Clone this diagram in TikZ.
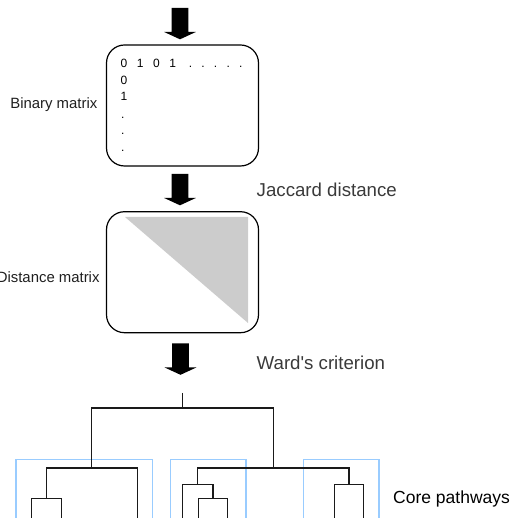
\documentclass[tikz,border=0pt]{standalone}
\usepackage{fontspec}
\setmainfont{Liberation Sans}[Ligatures=TeXOff]
\definecolor{paleblue}{HTML}{99CCFF}
\definecolor{trigray}{HTML}{CCCCCC}
\definecolor{labgray}{HTML}{3A3A3A}
\definecolor{dendro}{HTML}{1A1A1A}
\tikzset{
  mbox/.style={draw=black, line width=1.2pt, rounded corners=18pt, inner sep=0pt,
    minimum width=152pt, minimum height=121pt},
  bigtxt/.style={inner sep=0pt, text=labgray, font=\fontsize{18.67}{22}\selectfont},
  smalltxt/.style={inner sep=0pt, text=black!88, font=\fontsize{14.9}{18}\selectfont},
  cell/.style={inner sep=0pt, anchor=base west, font=\fontsize{12}{14}\selectfont},
  dline/.style={draw=dendro, line width=1.4pt},
  pathbox/.style={draw=paleblue, line width=1.1pt},
  blockarrow/.pic={\fill[black] (-8.3,0) -- (8.3,0) -- (8.3,24) -- (15.8,24) -- (0,31.3)
      -- (-15.8,24) -- (-8.3,24) -- cycle;}
}
\begin{document}
\begin{tikzpicture}[x=1pt,y=-1pt]
\useasboundingbox (0,0) rectangle (522,518);
\clip (0,0) rectangle (522,518);
% arrows
\pic at (180,8) {blockarrow};
\pic at (180,174) {blockarrow};
\pic at (180.5,343.5) {blockarrow};
% binary matrix box
\node[mbox] (bin) at (182.5,105.5) {};
\node[cell] (r1) at (120.3,67.5) {\makebox[16.3pt][l]{0}\makebox[16.3pt][l]{1}\makebox[16.3pt][l]{0}\makebox[19.4pt][l]{1}\makebox[12.6pt][l]{.}\makebox[12.6pt][l]{.}\makebox[12.6pt][l]{.}\makebox[12.6pt][l]{.}.};
\node[cell] (r2) at (120.3,84.3) {0};
\node[cell] (r3) at (120.3,100.7) {1};
\node[cell] (r4) at (121,118.5) {.};
\node[cell] (r5) at (121,135) {.};
\node[cell] (r6) at (121,151.5) {.};
\node[smalltxt, anchor=base east] (binlab) at (97.5,108.3) {Binary matrix};
% distance matrix box
\fill[trigray] (125,217) -- (248,217) -- (248,323) -- cycle;
\node[mbox] (dist) at (182.5,272.2) {};
\node[smalltxt, anchor=base east] (distlab) at (99.7,282.7) {Distance matrix};
% step labels
\node[bigtxt, anchor=base west] (jac) at (256.5,196.5) {Jaccard distance};
\node[bigtxt, anchor=base west] (ward) at (256.5,370) {Ward's criterion};
\node[inner sep=0pt, anchor=base west, font=\fontsize{17.5}{20}\selectfont] (core) at (393,503.5) {Core pathways};
% pathway boxes
\draw[pathbox] (16,530) |- (152.3,459.3) -- (152.3,530);
\draw[pathbox] (170.7,530) |- (246,459.3) -- (246,530);
\draw[pathbox] (303.3,530) |- (379,459.3) -- (379,530);
% dendrogram
\coordinate (root) at (182.7,393);
\coordinate (m0) at (182.7,408);
\coordinate (mL) at (91.7,468);
\coordinate (mR) at (273.3,468);
\coordinate (mLL) at (46.7,498.3);
\coordinate (l1) at (31.7,525);
\coordinate (l2) at (61.7,525);
\coordinate (l3) at (137.3,525);
\coordinate (mRA) at (197.7,484.3);
\coordinate (mRB) at (349,484.3);
\coordinate (l4) at (182.7,525);
\coordinate (mRA2) at (213,498.3);
\coordinate (l5) at (198.3,525);
\coordinate (l6) at (227.7,525);
\coordinate (l7) at (334.3,525);
\coordinate (l8) at (363.3,525);
\draw[dline] (root) -- (m0);
\draw[dline] (mL) |- (m0) -| (mR);
\draw[dline] (mLL) |- (mL) -| (l3);
\draw[dline] (l1) |- (mLL) -| (l2);
\draw[dline] (mRA) |- (mR) -| (mRB);
\draw[dline] (l4) |- (mRA) -| (mRA2);
\draw[dline] (l5) |- (mRA2) -| (l6);
\draw[dline] (l7) |- (mRB) -| (l8);
\end{tikzpicture}
\end{document}
